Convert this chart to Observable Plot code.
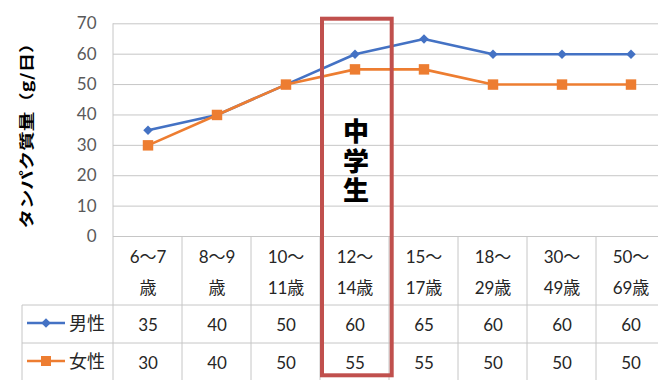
<!DOCTYPE html>
<html>
<head>
<meta charset="utf-8">
<script src="https://cdn.jsdelivr.net/npm/d3@7"></script>
<script src="https://cdn.jsdelivr.net/npm/@observablehq/plot@0.6"></script>
<style>
  html, body { margin: 0; padding: 0; background: #fff; }
  #chart svg { display: block; }
</style>
</head>
<body>
<div id="chart"></div>
<script>
// ---- data ----
const categories = ["6～7歳", "8～9歳", "10～11歳", "12～14歳", "15～17歳", "18～29歳", "30～49歳", "50～69歳"];
const headerLabels = ["6～7\n歳", "8～9\n歳", "10～\n11歳", "12～\n14歳", "15～\n17歳", "18～\n29歳", "30～\n49歳", "50～\n69歳"];
const maleValues = [35, 40, 50, 60, 65, 60, 60, 60];
const femaleValues = [30, 40, 50, 55, 55, 50, 50, 50];
const seriesNames = ["男性", "女性"];
const yTicks = [0, 10, 20, 30, 40, 50, 60, 70];
const highlightCategory = "12～14歳";
const highlightLabel = "中学生";
const yTitle = "タンパク質量（g/日）";

// ---- styles ----
const colors = ["#4472C4", "#ED7D31"];
const gridColor = "#C6C6C6";
const numFont = "Lato, 'Noto Sans CJK JP', sans-serif";
const jpFont = "'Noto Sans CJK JP', sans-serif";

const series = [maleValues, femaleValues];
const long = series.flatMap((vals, s) =>
  vals.map((v, i) => ({ category: categories[i], value: v, series: seriesNames[s] })));

const rowOffsets = [89, 127]; // table rows below the zero line (px)

function tableMark(index, scales, values, dimensions) {
  const x = scales.x, y = scales.y;
  const y0 = y(0);
  const g = d3.create("svg:g");
  const W = dimensions.width;
  const tableLeft = 22, plotLeft = x(categories[0]);
  const row1 = y0 + 69, row2 = y0 + 107, bottom = dimensions.height + 5;
  g.append("line").attr("x1", plotLeft).attr("x2", plotLeft)
    .attr("y1", y(70)).attr("y2", bottom).attr("stroke", gridColor);
  categories.forEach((c, i) => {
    if (i === 0) return;
    g.append("line").attr("x1", x(c)).attr("x2", x(c))
      .attr("y1", y0).attr("y2", bottom).attr("stroke", gridColor);
  });
  [row1, row2].forEach(yy => {
    g.append("line").attr("x1", tableLeft).attr("x2", W)
      .attr("y1", yy).attr("y2", yy).attr("stroke", gridColor);
  });
  g.append("line").attr("x1", tableLeft).attr("x2", tableLeft)
    .attr("y1", row1).attr("y2", bottom).attr("stroke", gridColor);
  seriesNames.forEach((name, s) => {
    const cy = y0 + rowOffsets[s] - 2;
    g.append("line").attr("x1", 27).attr("x2", 65).attr("y1", cy).attr("y2", cy)
      .attr("stroke", colors[s]).attr("stroke-width", 2.5);
    const sym = s === 0 ? d3.symbol(d3.symbolSquare, 45) : d3.symbol(d3.symbolSquare, 100);
    g.append("path").attr("d", sym())
      .attr("transform", `translate(46,${cy})` + (s === 0 ? " rotate(45)" : ""))
      .attr("fill", colors[s]);
    g.append("text").attr("x", 69).attr("y", cy + 1).attr("dy", "0.36em")
      .attr("text-anchor", "start")
      .attr("font-family", jpFont).attr("font-size", 18).attr("fill", "#262626")
      .text(name);
  });
  return g.node();
}

const chart = Plot.plot({
  width: 658,
  height: 380,
  marginLeft: 113,
  marginRight: 0,
  marginTop: 23,
  marginBottom: 144,
  x: { type: "band", domain: categories, range: [113, 665], padding: 0, axis: null },
  y: { domain: [0, 70], range: [236, 23.3], axis: null },
  style: { fontFamily: numFont, background: "#fff", overflow: "hidden" },
  marks: [
    Plot.ruleY(yTicks, { stroke: gridColor, strokeWidth: 1 }),
    tableMark,
    Plot.axisY(yTicks, { tickSize: 0, tickPadding: 17, fontSize: 17, fill: "#595959", fontFamily: numFont, label: null }),
    Plot.text([yTitle], {
      frameAnchor: "left", textAnchor: "middle", rotate: -90, dx: -86, dy: 1,
      fontSize: 15, fontWeight: "bold", fill: "#000", fontFamily: jpFont, className: "ytitle"
    }),
    Plot.text(categories, {
      x: d => d, y: () => 0, text: (d, i) => headerLabels[i],
      dy: 32, lineHeight: 1.82, fontSize: 17, fill: "#262626", fontFamily: numFont
    }),
    ...series.map((vals, s) => Plot.text(vals, {
      x: (d, i) => categories[i], y: () => 0, text: d => String(d),
      dy: rowOffsets[s], fontSize: 17, fill: "#262626", fontFamily: numFont
    })),
    Plot.line(long, { x: "category", y: "value", z: "series",
      stroke: d => colors[seriesNames.indexOf(d.series)], strokeWidth: 2.6 }),
    Plot.dot(long.filter(d => d.series === seriesNames[0]), { x: "category", y: "value",
      symbol: "diamond2", r: 4.3, fill: colors[0], stroke: "none" }),
    Plot.dot(long.filter(d => d.series === seriesNames[1]), { x: "category", y: "value",
      symbol: "square", r: 5.9, fill: colors[1], stroke: "none" }),
    Plot.barY([highlightCategory], { x: d => d, y1: () => 0, y2: () => 70,
      fill: "none", stroke: "#C0504D", strokeWidth: 4,
      insetLeft: 2, insetRight: -2.7, insetTop: -4.6, insetBottom: -139.3 }),
    Plot.text([highlightCategory], { x: d => d, y: () => 27, text: () => highlightLabel,
      fontSize: 26, fontWeight: 900, fill: "#000", fontFamily: jpFont, dx: 1, className: "vlabel" })
  ]
});

document.getElementById("chart").appendChild(chart);
// stretch the y title along its direction, as in the reference
d3.select(chart).selectAll(".ytitle text").each(function () {
  const t = d3.select(this);
  t.attr("transform", (t.attr("transform") || "") + " scale(1.3,1)");
});
// stack the highlight label vertically (upright characters)
d3.select(chart).selectAll(".vlabel text")
  .attr("dy", null)
  .style("writing-mode", "vertical-rl")
  .style("letter-spacing", "3.5px")
  .attr("text-anchor", "middle");
</script>
</body>
</html>
